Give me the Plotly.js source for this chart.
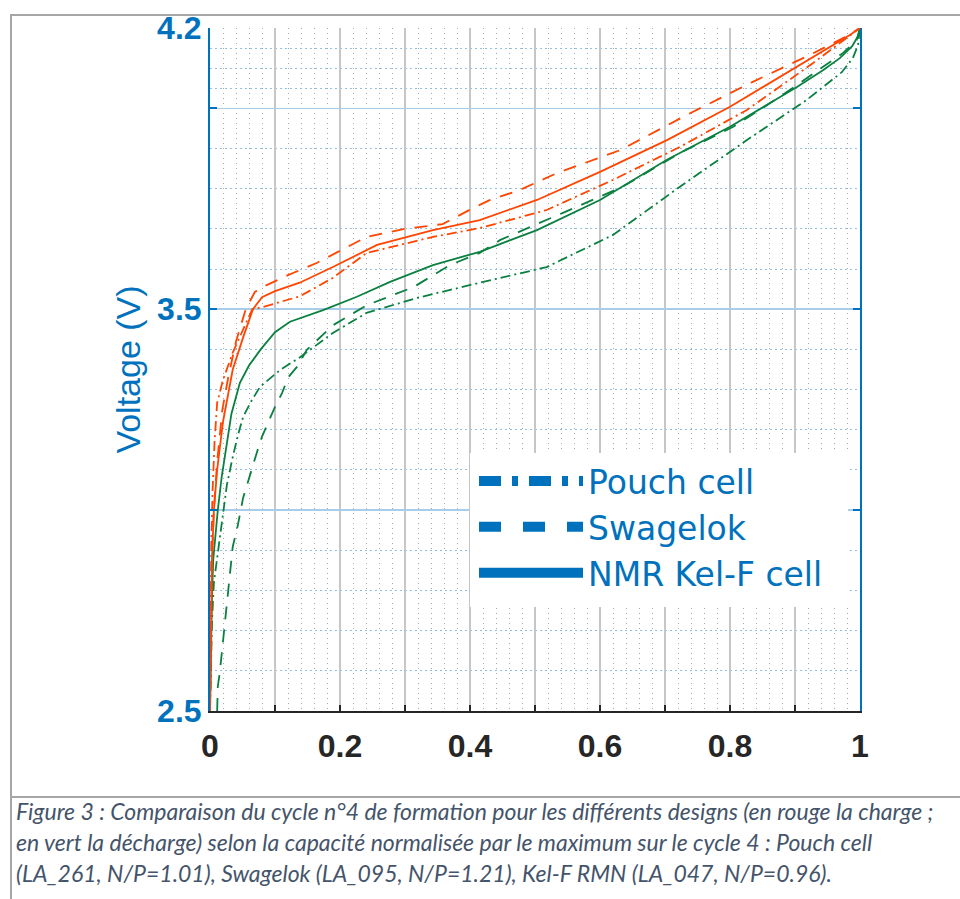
<!DOCTYPE html>
<html><head><meta charset="utf-8">
<script src="https://cdn.plot.ly/plotly-3.0.1.min.js"></script>
<style>html,body{margin:0;padding:0;background:#fff}</style>
</head><body><div id="chart" style="width:960px;height:899px"></div>
<script>
// Normalized capacity (x) and voltage (V)
const nmrChargeX = [0, 0.001, 0.003, 0.006, 0.011, 0.02, 0.026, 0.035, 0.051, 0.066, 0.08, 0.1, 0.138, 0.189, 0.257, 0.343, 0.415, 0.503, 0.6, 0.703, 0.8, 0.903, 0.958, 0.985, 1.0];
const nmrChargeV = [2.5, 2.7, 2.88, 3.0, 3.1, 3.22, 3.27, 3.35, 3.43, 3.5, 3.53, 3.545, 3.566, 3.605, 3.66, 3.697, 3.722, 3.772, 3.842, 3.921, 4.004, 4.103, 4.158, 4.183, 4.2];

const swagelokChargeX = [0, 0.001, 0.003, 0.006, 0.011, 0.019, 0.028, 0.04, 0.055, 0.069, 0.082, 0.12, 0.164, 0.241, 0.3, 0.358, 0.405, 0.431, 0.477, 0.534, 0.631, 0.734, 0.835, 0.928, 0.98, 1.0];
const swagelokChargeV = [2.5, 2.7, 2.88, 3.0, 3.12, 3.25, 3.33, 3.42, 3.5, 3.543, 3.556, 3.585, 3.615, 3.68, 3.7, 3.712, 3.752, 3.772, 3.797, 3.839, 3.896, 3.984, 4.066, 4.137, 4.18, 4.2];

const pouchChargeX = [0, 0.001, 0.002, 0.004, 0.007, 0.011, 0.02, 0.035, 0.057, 0.065, 0.082, 0.118, 0.138, 0.189, 0.241, 0.343, 0.415, 0.518, 0.62, 0.723, 0.826, 0.928, 0.975, 1.0];
const pouchChargeV = [2.5, 2.75, 2.92, 3.05, 3.17, 3.267, 3.324, 3.392, 3.474, 3.5, 3.506, 3.523, 3.532, 3.578, 3.64, 3.68, 3.702, 3.747, 3.822, 3.904, 3.996, 4.113, 4.17, 4.2];

const nmrDischargeX = [0, 0.001, 0.003, 0.005, 0.008, 0.012, 0.018, 0.025, 0.033, 0.046, 0.06, 0.078, 0.1, 0.123, 0.174, 0.226, 0.277, 0.343, 0.415, 0.503, 0.6, 0.703, 0.8, 0.903, 0.943, 0.969, 0.988, 0.997, 1.0];
const nmrDischargeV = [2.5, 2.62, 2.78, 2.877, 2.93, 3.0, 3.083, 3.16, 3.24, 3.317, 3.36, 3.4, 3.443, 3.469, 3.498, 3.531, 3.568, 3.61, 3.643, 3.697, 3.772, 3.872, 3.954, 4.053, 4.095, 4.125, 4.155, 4.18, 4.2];

const swagelokDischargeX = [0.011, 0.012, 0.015, 0.02, 0.025, 0.031, 0.035, 0.042, 0.051, 0.058, 0.065, 0.072, 0.08, 0.089, 0.1, 0.111, 0.12, 0.134, 0.149, 0.189, 0.241, 0.313, 0.369, 0.415, 0.446, 0.543, 0.635, 0.723, 0.805, 0.877, 0.974, 0.995, 1.0];
const swagelokDischargeV = [2.5, 2.561, 2.595, 2.673, 2.752, 2.832, 2.909, 2.956, 3.031, 3.068, 3.108, 3.143, 3.183, 3.217, 3.257, 3.292, 3.33, 3.357, 3.399, 3.46, 3.51, 3.555, 3.61, 3.64, 3.672, 3.74, 3.805, 3.889, 3.954, 4.029, 4.138, 4.17, 4.2];

const pouchDischargeX = [0, 0.001, 0.003, 0.006, 0.011, 0.015, 0.02, 0.026, 0.034, 0.043, 0.051, 0.062, 0.077, 0.108, 0.138, 0.189, 0.241, 0.318, 0.415, 0.518, 0.62, 0.723, 0.826, 0.918, 0.972, 0.989, 0.997, 1.0];
const pouchDischargeV = [2.5, 2.6, 2.72, 2.82, 2.884, 2.934, 3.0, 3.063, 3.125, 3.187, 3.232, 3.267, 3.307, 3.349, 3.38, 3.441, 3.491, 3.528, 3.566, 3.605, 3.685, 3.805, 3.921, 4.021, 4.09, 4.125, 4.158, 4.2];

const legendNames = ['Pouch cell', 'Swagelok', 'NMR Kel-F cell'];
const xTickVals = [0, 0.1, 0.2, 0.3, 0.4, 0.5, 0.6, 0.7, 0.8, 0.9, 1];
const xTickText = ['0', '', '0.2', '', '0.4', '', '0.6', '', '0.8', '', '1'];
const yTickVals = [2.5, 3.0, 3.5, 4.0, 4.2];
const yTickText = ['2.5', '', '3.5', '', '4.2'];
const yMinorVals = [2.6, 2.7, 2.8, 2.9, 3.1, 3.2, 3.3, 3.4, 3.6, 3.7, 3.8, 3.9, 4.05, 4.1, 4.15];
const captionLines = [
  'Figure 3 : Comparaison du cycle n°4 de formation pour les différents designs (en rouge la charge ;',
  'en vert la décharge) selon la capacité normalisée par le maximum sur le cycle 4 : Pouch cell',
  '(LA_261, N/P=1.01), Swagelok (LA_095, N/P=1.21), Kel-F RMN (LA_047, N/P=0.96).'
];

const RED = '#FF4500', GREEN = '#0A8040', BLUE = '#0072BD';
const DASH_SW = '13px,10px', DASH_PO = '10px,4px,2px,4px';
const LW = 1.8;

function line(x, y, color, dash) {
  return {x: x, y: y, type: 'scatter', mode: 'lines', showlegend: false, hoverinfo: 'skip',
          line: {color: color, width: LW, dash: dash}};
}
const traces = [
  line(pouchDischargeX, pouchDischargeV, GREEN, DASH_PO),
  line(swagelokDischargeX, swagelokDischargeV, GREEN, DASH_SW),
  line(nmrDischargeX, nmrDischargeV, GREEN, 'solid'),
  line(pouchChargeX, pouchChargeV, RED, DASH_PO),
  line(swagelokChargeX, swagelokChargeV, RED, DASH_SW),
  line(nmrChargeX, nmrChargeV, RED, 'solid'),
  {x: [null], y: [null], type: 'scatter', mode: 'lines', name: legendNames[0], line: {color: BLUE, width: 10, dash: '22px,11px,6px,11px'}},
  {x: [null], y: [null], type: 'scatter', mode: 'lines', name: legendNames[1], line: {color: BLUE, width: 10, dash: '22px,22px'}},
  {x: [null], y: [null], type: 'scatter', mode: 'lines', name: legendNames[2], line: {color: BLUE, width: 10, dash: 'solid'}}
];

// pixel -> paper helpers for decoration
const PL = 210, PW = 650, PT = 28, PH = 683;
const px = v => (v - PL) / PW;
const py = v => (PT + PH - v) / PH;

const annotations = captionLines.map((t, i) => ({
  text: t, xref: 'paper', yref: 'paper', x: px(14), y: py(811 + i * 31), xanchor: 'left', yanchor: 'middle',
  showarrow: false, font: {family: 'Lato, sans-serif', size: 23, color: '#44546A', style: 'italic'}
}));

const layout = {
  width: 960, height: 899,
  margin: {l: PL, r: 960 - PL - PW, t: PT, b: 899 - PT - PH},
  paper_bgcolor: '#fff', plot_bgcolor: '#fff',
  showlegend: true,
  legend: {x: px(474), y: py(453), xanchor: 'left', yanchor: 'top', bgcolor: 'rgba(0,0,0,0)',
           font: {family: 'DejaVu Sans', size: 33, color: BLUE}, itemwidth: 104, tracegroupgap: 0},
  xaxis: {range: [0, 1], tickmode: 'array', tickvals: xTickVals, ticktext: xTickText,
          ticks: 'inside', ticklen: 6, tickwidth: 2, tickcolor: '#262626',
          showline: true, linecolor: '#262626', linewidth: 2, zeroline: false,
          showgrid: true, gridcolor: '#c6c6c6', gridwidth: 1.5,
          minor: {dtick: 0.02, tick0: 0, showgrid: true, gridcolor: '#a8a8a8', griddash: '1px,4px', gridwidth: 1, ticks: ''},
          tickfont: {family: 'Liberation Sans, Arial, sans-serif', size: 32, color: '#262626', weight: 'bold'},
          ticklabelstandoff: 6},
  yaxis: {range: [2.5, 4.2], tickmode: 'array', tickvals: yTickVals, ticktext: yTickText,
          ticks: 'inside', ticklen: 7, tickwidth: 2, tickcolor: BLUE,
          showline: true, linecolor: BLUE, linewidth: 2, mirror: 'ticks', zeroline: false,
          showgrid: true, gridcolor: '#a9cde8', gridwidth: 1.5,
          minor: {tickvals: yMinorVals, showgrid: true, gridcolor: '#8fc0e3', griddash: '2px,3px', gridwidth: 1, ticks: ''},
          tickfont: {family: 'Liberation Sans, Arial, sans-serif', size: 32, color: BLUE, weight: 'bold'},
          title: {text: 'Voltage (V)', standoff: 6, font: {family: 'Liberation Sans, Arial, sans-serif', size: 34, color: BLUE}}},
  shapes: [
    {type: 'rect', xref: 'paper', yref: 'paper', x0: px(11), x1: px(975), y0: py(915), y1: py(15),
     line: {color: '#a6a6a6', width: 2}, fillcolor: 'rgba(0,0,0,0)', layer: 'below'},
    {type: 'line', xref: 'paper', yref: 'paper', x0: px(11), x1: px(975), y0: py(797), y1: py(797),
     line: {color: '#a6a6a6', width: 2}},
    {type: 'rect', xref: 'paper', yref: 'paper', x0: px(470), x1: px(848), y0: py(607), y1: py(453),
     line: {width: 0}, fillcolor: '#ffffff', layer: 'above'}
  ],
  annotations: annotations
};

Plotly.newPlot('chart', traces, layout, {displayModeBar: false, staticPlot: true});
</script></body></html>
